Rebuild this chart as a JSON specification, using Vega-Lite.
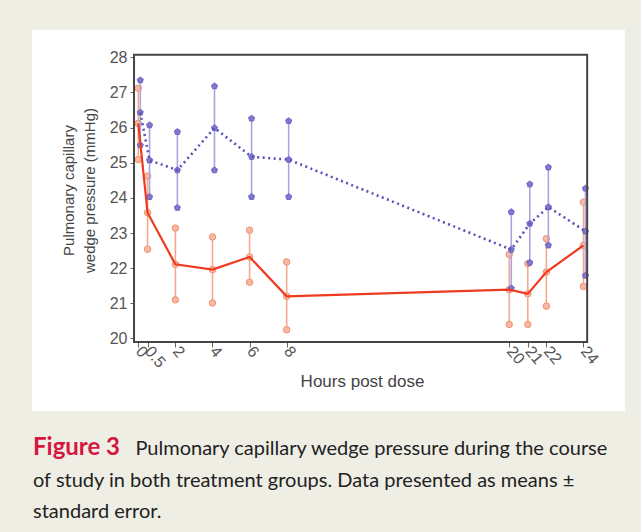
{
  "$schema": "https://vega.github.io/schema/vega-lite/v6.json",
  "width": 593,
  "height": 381,
  "autosize": {"type": "none"},
  "padding": {"left": 32, "top": 30, "right": 16, "bottom": 121},
  "background": "#efeee5",
  "view": {"fill": "white", "stroke": null},
  "config": {"font": "Liberation Sans"},
  "title": {
    "text": "Figure 3",
    "subtitle": [
      "\u200b\u00a0\u00a0\u00a0\u00a0\u00a0\u00a0\u00a0\u00a0\u00a0\u00a0\u00a0\u00a0\u00a0\u00a0\u00a0\u00a0\u00a0\u00a0\u00a0\u00a0Pulmonary capillary wedge pressure during the course",
      "of study in both treatment groups. Data presented as means \u00b1",
      "standard error."
    ],
    "orient": "bottom",
    "anchor": "start",
    "frame": "group",
    "offset": 25,
    "dx": 1,
    "font": "Lato",
    "fontSize": 24,
    "fontWeight": "bold",
    "color": "#d4173f",
    "subtitleFont": "Lato",
    "subtitleFontSize": 20,
    "subtitleColor": "#222222",
    "subtitleLineHeight": 31.5,
    "subtitlePadding": -21
  },
  "datasets": {
    "pcwp": [
      {"group": "A", "hour": 0, "mean": 26.12, "lower": 25.09, "upper": 27.12},
      {"group": "A", "hour": 0.5, "mean": 23.58, "lower": 22.54, "upper": 24.62},
      {"group": "A", "hour": 2, "mean": 22.11, "lower": 21.10, "upper": 23.14},
      {"group": "A", "hour": 4, "mean": 21.96, "lower": 21.01, "upper": 22.89},
      {"group": "A", "hour": 6, "mean": 22.32, "lower": 21.60, "upper": 23.08},
      {"group": "A", "hour": 8, "mean": 21.20, "lower": 20.25, "upper": 22.18},
      {"group": "A", "hour": 20, "mean": 21.39, "lower": 20.40, "upper": 22.39},
      {"group": "A", "hour": 21, "mean": 21.27, "lower": 20.40, "upper": 22.13},
      {"group": "A", "hour": 22, "mean": 21.89, "lower": 20.92, "upper": 22.84},
      {"group": "A", "hour": 24, "mean": 22.65, "lower": 21.48, "upper": 23.88},
      {"group": "B", "hour": 0, "mean": 26.43, "lower": 25.50, "upper": 27.35},
      {"group": "B", "hour": 0.5, "mean": 25.07, "lower": 24.03, "upper": 26.07},
      {"group": "B", "hour": 2, "mean": 24.79, "lower": 23.72, "upper": 25.88},
      {"group": "B", "hour": 4, "mean": 25.99, "lower": 24.79, "upper": 27.18},
      {"group": "B", "hour": 6, "mean": 25.17, "lower": 24.03, "upper": 26.26},
      {"group": "B", "hour": 8, "mean": 25.09, "lower": 24.03, "upper": 26.19},
      {"group": "B", "hour": 20, "mean": 22.53, "lower": 21.43, "upper": 23.60},
      {"group": "B", "hour": 21, "mean": 23.27, "lower": 22.16, "upper": 24.39},
      {"group": "B", "hour": 22, "mean": 23.74, "lower": 22.65, "upper": 24.87},
      {"group": "B", "hour": 24, "mean": 23.05, "lower": 21.79, "upper": 24.27}
    ]
  },
  "data": {"name": "pcwp"},
  "layer": [
    {
      "transform": [{"filter": "datum.group === 'A'"}],
      "mark": {"type": "rule", "color": "#f5a98f", "strokeWidth": 1.6},
      "encoding": {
        "x": {
          "field": "hour", "type": "quantitative",
          "scale": {"domain": [-5.73, 26.24], "nice": false, "zero": false},
          "axis": {
            "values": [0, 0.5, 2, 4, 6, 8, 20, 21, 22, 24],
            "format": "~g",
            "offset": -69,
            "domain": false, "grid": false,
            "tickSize": 5, "tickColor": "#666666", "tickWidth": 1,
            "labelAngle": 50, "labelAlign": "left", "labelBaseline": "middle",
            "labelFontSize": 16, "labelColor": "#555555", "labelPadding": 1,
            "labelFlush": false, "labelOverlap": false, "labelBound": false,
            "title": "Hours post dose",
            "titleFontSize": 17, "titleFontWeight": "normal", "titleColor": "#444444",
            "titleX": 330, "titleY": 44, "titleAlign": "center", "titleBaseline": "alphabetic"
          }
        },
        "y": {
          "field": "lower", "type": "quantitative",
          "scale": {"domain": [17.937, 28.777], "nice": false, "zero": false},
          "axis": {
            "values": [20, 21, 22, 23, 24, 25, 26, 27, 28],
            "offset": -102,
            "domain": false, "grid": false,
            "tickSize": 4, "tickColor": "#666666", "tickWidth": 1,
            "labelFontSize": 16, "labelColor": "#555555", "labelPadding": 3,
            "labelFlush": false, "labelOverlap": false, "labelBound": false,
            "title": ["Pulmonary capillary", "wedge pressure (mmHg)"],
            "titleFontSize": 15, "titleFontWeight": "normal", "titleColor": "#444444",
            "titleAngle": -90, "titleX": -58, "titleY": 160,
            "titleAlign": "center", "titleBaseline": "bottom", "titleLineHeight": 21
          }
        },
        "y2": {"field": "upper"}
      }
    },
    {
      "transform": [{"filter": "datum.group === 'A'"}, {"fold": ["lower", "mean", "upper"], "as": ["stat", "value"]}],
      "mark": {"type": "point", "shape": "circle", "filled": true, "size": 42, "fill": "#f8b9a3", "stroke": "#f0906f", "strokeWidth": 1, "opacity": 1},
      "encoding": {
        "x": {"field": "hour", "type": "quantitative"},
        "y": {"field": "value", "type": "quantitative"}
      }
    },
    {
      "transform": [{"filter": "datum.group === 'B'"}],
      "mark": {"type": "rule", "color": "#a9a5de", "strokeWidth": 1.6, "xOffset": 2},
      "encoding": {
        "x": {"field": "hour", "type": "quantitative"},
        "y": {"field": "lower", "type": "quantitative"},
        "y2": {"field": "upper"}
      }
    },
    {
      "transform": [{"filter": "datum.group === 'B'"}, {"fold": ["lower", "mean", "upper"], "as": ["stat", "value"]}],
      "mark": {"type": "point", "shape": "M0,-1L0.95,-0.31L0.59,0.81L-0.59,0.81L-0.95,-0.31Z", "filled": true, "size": 42, "fill": "#7f78d0", "stroke": "#5f57bb", "strokeWidth": 0.8, "opacity": 1, "xOffset": 2},
      "encoding": {
        "x": {"field": "hour", "type": "quantitative"},
        "y": {"field": "value", "type": "quantitative"}
      }
    },
    {
      "transform": [{"filter": "datum.group === 'B'"}],
      "mark": {"type": "line", "color": "#5a52b6", "strokeWidth": 2.6, "strokeDash": [2, 3.5], "xOffset": 2},
      "encoding": {
        "x": {"field": "hour", "type": "quantitative"},
        "y": {"field": "mean", "type": "quantitative"}
      }
    },
    {
      "transform": [{"filter": "datum.group === 'A'"}],
      "mark": {"type": "line", "color": "#ee3a1e", "strokeWidth": 2.2},
      "encoding": {
        "x": {"field": "hour", "type": "quantitative"},
        "y": {"field": "mean", "type": "quantitative"}
      }
    },
    {
      "data": {"values": [{}]},
      "mark": {"type": "rect", "fillOpacity": 0, "stroke": "#444444", "strokeWidth": 2},
      "encoding": {
        "x": {"datum": -0.23, "type": "quantitative"},
        "x2": {"datum": 24.2},
        "y": {"datum": 19.9, "type": "quantitative"},
        "y2": {"datum": 28.07}
      }
    }
  ]
}
